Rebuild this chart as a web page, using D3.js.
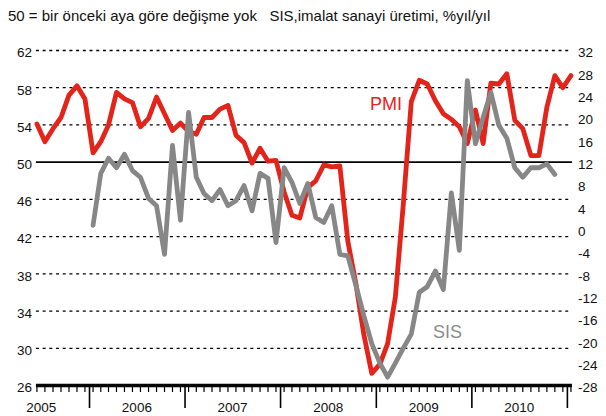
<!DOCTYPE html>
<html>
<head>
<meta charset="utf-8">
<script src="https://cdn.jsdelivr.net/npm/d3@7"></script>
<style>
  body { margin: 0; background: #fff; }
  text { font-family: "Liberation Sans", Arial, sans-serif; }
</style>
</head>
<body>
<script>
// chart size
var svgWidth = 606;
var svgHeight = 416;

// PMI, monthly, Jun 2005 - Jan 2011 (left axis)
var pmiStart = new Date(2005, 5, 1);
var pmi = [
  54.1, 52.2, 53.6, 54.8, 57.2, 58.2, 56.8,
  51.0, 52.2, 54.0, 57.5, 56.8, 56.4, 53.8, 54.7, 57.0, 55.2, 53.4, 54.2,
  53.3, 53.0, 54.8, 54.8, 55.7, 56.1, 52.9, 52.1, 49.9, 51.5, 50.1, 50.2,
  46.8, 44.3, 44.0, 47.3, 48.0, 49.7, 49.5, 49.6, 41.5, 37.0, 31.5, 27.3,
  28.3, 30.5, 35.5, 45.5, 56.5, 58.8, 58.4, 56.6, 55.2, 54.6, 53.8, 52.0,
  55.6, 52.0, 58.5, 58.4, 59.5, 54.5, 53.6, 50.7, 50.7, 55.9, 59.3, 58.0,
  59.3
];

// SIS, manufacturing output %y/y, Jan 2006 - Nov 2010 (right axis)
var sisStart = new Date(2006, 0, 1);
var sis = [
  0.7, 10.0, 12.7, 11.0, 13.4, 10.5, 9.3, 5.5, 4.2, -4.5, 15.0, 1.6,
  20.9, 9.3, 6.4, 5.1, 7.1, 4.2, 5.1, 7.8, 3.3, 10.0, 9.1, -2.4,
  11.0, 8.4, 4.6, 8.2, 2.1, 1.2, 4.2, -4.5, -4.8, -10.0, -15.5, -20.5,
  -24.0, -26.5, -24.0, -21.3, -18.8, -11.3, -10.3, -7.5, -10.8, 6.5, -3.8, 26.6,
  15.3, 20.0, 24.5, 18.6, 16.3, 11.0, 9.3, 11.0, 11.0, 11.7, 9.8
];

// axis ticks
var leftTicks = [26, 30, 34, 38, 42, 46, 50, 54, 58, 62];
var rightTicks = [-28, -24, -20, -16, -12, -8, -4, 0, 4, 8, 12, 16, 20, 24, 28, 32];
var years = [2005, 2006, 2007, 2008, 2009, 2010];

var titleText = "50 = bir önceki aya göre değişme yok   SIS,imalat sanayi üretimi, %yıl/yıl";

var svg = d3.select("body")
    .append("svg")
    .attr("width", svgWidth)
    .attr("height", svgHeight);

// scales
var x = d3.scaleTime()
    .domain([new Date(2005, 5, 1), new Date(2011, 1, 1)])
    .range([33, 575]);

var yL = d3.scaleLinear().domain([26, 62]).range([385.5, 50.5]);
var yR = d3.scaleLinear().domain([-28, 32]).range([385.5, 50.5]);

// month centre position
function mid(d) {
    return (x(d) + x(d3.timeMonth.offset(d, 1))) / 2;
}

var pmiData = pmi.map((v, i) => ({ date: d3.timeMonth.offset(pmiStart, i), value: v }));
var sisData = sis.map((v, i) => ({ date: d3.timeMonth.offset(sisStart, i), value: v }));

var x0 = mid(pmiData[0].date);
var x1 = mid(pmiData[pmiData.length - 1].date);

// title
svg.append("text")
    .attr("x", 8)
    .attr("y", 21)
    .attr("font-size", "15px")
    .attr("fill", "#111")
    .style("white-space", "pre")
    .attr("xml:space", "preserve")
    .text(titleText);

// grid lines
svg.append("g")
    .selectAll("line")
    .data(leftTicks.filter(d => d != 26))
    .enter()
    .append("line")
    .attr("x1", x0 - 1)
    .attr("x2", x1 + 1)
    .attr("y1", d => yL(d))
    .attr("y2", d => yL(d))
    .attr("stroke", "#000")
    .attr("stroke-width", d => d == 50 ? 1.6 : 1.3)
    .attr("stroke-dasharray", d => d == 50 ? null : "3,3.7");

// left axis labels
var leftAxis = svg.append("g")
    .attr("transform", "translate(36,2)")
    .call(d3.axisLeft(yL).tickValues(leftTicks).tickSize(0).tickPadding(4).tickFormat(d => String(d)));
leftAxis.select(".domain").remove();
leftAxis.selectAll("text").attr("font-size", "13.5px").attr("font-family", "Liberation Sans, Arial").attr("fill", "#111");

// right axis labels
var rightAxis = svg.append("g")
    .attr("transform", "translate(572,2)")
    .call(d3.axisRight(yR).tickValues(rightTicks).tickSize(0).tickPadding(6).tickFormat(d => String(d)));
rightAxis.select(".domain").remove();
rightAxis.selectAll("text").attr("font-size", "13.5px").attr("font-family", "Liberation Sans, Arial").attr("fill", "#111");

// x axis: month ticks
var monthTicks = pmiData.map(d => d.date);
var monthAxis = svg.append("g")
    .attr("transform", "translate(0,386)")
    .call(d3.axisBottom(x).tickValues(monthTicks).tickSize(6).tickFormat(""));
monthAxis.select(".domain").remove();
monthAxis.selectAll(".tick").attr("transform", d => `translate(${mid(d)},0)`);
monthAxis.selectAll("line").attr("stroke", "#000").attr("stroke-width", 1.2);

// x axis: year ticks
var yearAxis = svg.append("g")
    .attr("transform", "translate(0,386)")
    .call(d3.axisBottom(x)
        .tickValues(years.slice(1).concat([2011]).map(y => new Date(y, 0, 1)))
        .tickSize(22).tickFormat(""));
yearAxis.select(".domain").remove();
yearAxis.selectAll("line").attr("stroke", "#000").attr("stroke-width", 1.6);

// x axis: year labels
var labelAxis = svg.append("g")
    .attr("transform", "translate(0,399)")
    .call(d3.axisBottom(x)
        .tickValues(years.map(y => new Date(y, 6, 1)))
        .tickSize(0)
        .tickFormat(d3.timeFormat("%Y")));
labelAxis.select(".domain").remove();
labelAxis.selectAll("text").attr("font-size", "13.5px").attr("font-family", "Liberation Sans, Arial").attr("fill", "#111");

// axis base line
svg.append("line")
    .attr("x1", x0 - 1)
    .attr("x2", x1 + 1)
    .attr("y1", yL(26))
    .attr("y2", yL(26))
    .attr("stroke", "#000")
    .attr("stroke-width", 3.5);

// lines
var pmiLine = d3.line()
    .x(d => mid(d.date))
    .y(d => yL(d.value));

var sisLine = d3.line()
    .x(d => mid(d.date))
    .y(d => yR(d.value));

svg.append("path")
    .datum(pmiData)
    .attr("d", pmiLine)
    .attr("fill", "none")
    .attr("stroke", "#e3241b")
    .attr("stroke-width", 4.8)
    .attr("stroke-linejoin", "round")
    .attr("stroke-linecap", "round");

svg.append("path")
    .datum(sisData)
    .attr("d", sisLine)
    .attr("fill", "none")
    .attr("stroke", "#878787")
    .attr("stroke-width", 4.8)
    .attr("stroke-linejoin", "round")
    .attr("stroke-linecap", "round");

// series labels
svg.append("text")
    .attr("x", 370)
    .attr("y", 110)
    .attr("font-size", "18px")
    .attr("fill", "#e3241b")
    .text("PMI");

svg.append("text")
    .attr("x", 433)
    .attr("y", 338)
    .attr("font-size", "18px")
    .attr("fill", "#8c8c8c")
    .text("SIS");
</script>
</body>
</html>
